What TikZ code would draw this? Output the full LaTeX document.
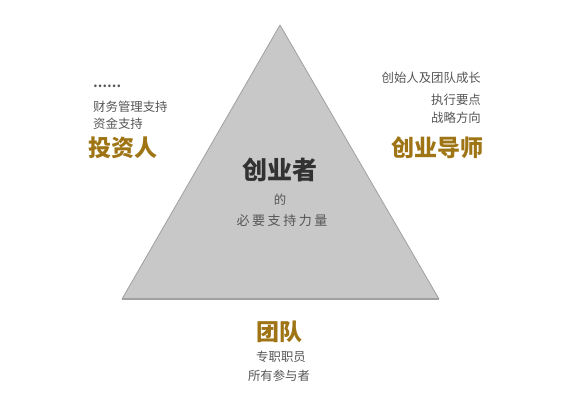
\documentclass[tikz,border=0pt]{standalone}
\usepackage{fontspec}
\usepackage{tikz}
\usetikzlibrary{positioning}
\newfontfamily\cjk{Noto Sans CJK SC}
\definecolor{trifill}{RGB}{200,200,200}
\definecolor{triedge}{RGB}{160,160,160}
\definecolor{gold}{RGB}{158,116,20}
\definecolor{note}{RGB}{85,85,85}
\definecolor{core}{RGB}{50,50,50}
\tikzstyle{role}=[inner sep=0pt, text=gold, font=\cjk\bfseries\fontsize{23}{23}\selectfont]
\tikzstyle{hint}=[inner sep=0pt, text=note, font=\cjk\fontsize{12.4}{12.4}\selectfont]
\tikzstyle{whint}=[hint, font=\cjk\fontsize{13}{13}\selectfont\addfontfeature{LetterSpace=20}]

\begin{document}
\begin{tikzpicture}[x=1pt, y=-1pt]
        \useasboundingbox (0,0) rectangle (572,400);
        \coordinate (top) at (280, 25);
        \coordinate (bl) at (122, 299);
        \coordinate (br) at (439, 299);
        \fill[trifill] (top) -- (bl) -- (br) -- cycle;
        \draw[triedge, line width=0.8pt, line join=round] (bl) -- (top) -- (br);
        \draw[triedge, line width=1.4pt] (bl) -- (br);
        % centre
        \node[inner sep=0pt, text=core, font=\cjk\bfseries\fontsize{25}{25}\selectfont] (founder) at (280, 170) {创业者};
        \node[hint] (of) at (280, 200) {的};
        \node[whint] (force) at (282, 221) {必要支持力量};
        % left: investor
        \node[hint, anchor=west, font=\cjk\bfseries\fontsize{12.4}{12.4}\selectfont] (dots) at (93, 86) {……};
        \node[hint, anchor=west] (finance) at (93, 107) {财务管理支持};
        \node[hint, anchor=west] (fund) at (93, 124) {资金支持};
        \node[role, anchor=west] (investor) at (88, 148) {投资人};
        % right: mentor
        \node[hint, anchor=east] (growth) at (481, 78) {创始人及团队成长};
        \node[hint, anchor=east] (execute) at (481, 100) {执行要点};
        \node[hint, anchor=east] (strategy) at (481, 118) {战略方向};
        \node[role, anchor=east] (mentor) at (484, 148) {创业导师};
        % bottom: team
        \node[role] (team) at (279, 332) {团队};
        \node[hint] (staff) at (281, 357) {专职职员};
        \node[hint] (members) at (279, 376) {所有参与者};
    \end{tikzpicture}
\end{document}
